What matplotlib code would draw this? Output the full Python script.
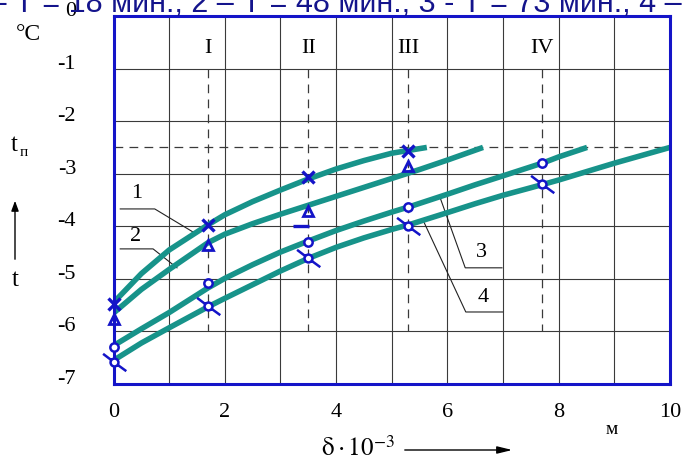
import matplotlib
matplotlib.use("Agg")
import matplotlib.pyplot as plt
from matplotlib.path import Path
from matplotlib.transforms import ScaledTranslation

plt.rcParams['font.family'] = ['Liberation Serif', 'DejaVu Serif']
plt.rcParams['mathtext.fontset'] = 'stix'
plt.rcParams['axes.unicode_minus'] = False

# кривые
x1 = [0, 0.5, 1, 1.7, 2, 2.5, 3, 3.5, 4, 4.5, 5, 5.63]
y1 = [-5.45, -4.90, -4.45, -3.97, -3.78, -3.53, -3.31, -3.10, -2.91, -2.75, -2.61, -2.50]
x2 = [0, 0.5, 1, 1.7, 2, 2.5, 3, 3.5, 4, 4.5, 5, 5.5, 6, 6.64]
y2 = [-5.65, -5.20, -4.82, -4.31, -4.15, -3.95, -3.77, -3.60, -3.43, -3.26, -3.09, -2.92, -2.74, -2.50]
x3 = [0, 0.5, 1, 1.7, 2, 2.5, 3, 3.5, 4, 4.5, 5, 5.34, 6, 6.5, 7, 7.73, 8, 8.51]
y3 = [-6.27, -5.95, -5.64, -5.17, -4.99, -4.73, -4.49, -4.28, -4.08, -3.90, -3.73, -3.62, -3.39, -3.21, -3.04, -2.79, -2.68, -2.50]
x4 = [0, 0.5, 1, 1.7, 2, 2.5, 3, 3.5, 4, 4.5, 5, 5.34, 6, 6.5, 7, 7.73, 8, 9, 10]
y4 = [-6.55, -6.22, -5.93, -5.53, -5.37, -5.11, -4.85, -4.61, -4.40, -4.22, -4.06, -3.96, -3.74, -3.57, -3.41, -3.20, -3.12, -2.80, -2.50]

# экспериментальные точки
sec_x = [0, 1.7, 3.5, 5.3, 7.7]
sec_names = ['I', 'II', 'III', 'IV']
m1 = [-5.48, -3.97, -3.07, -2.56]
m2 = [-5.76, -4.35, -3.70, -2.86]
m3 = [-6.29, -5.08, -4.29, -3.63, -2.79]
m4 = [-6.59, -5.51, -4.60, -4.00, -3.20]
dash_pt = (3.37, -4.0)

t_level = -2.5
title = "1 – Т = 18 мин.; 2 – Т = 48 мин.; 3 - Т = 73 мин.; 4 – Т = 98 мин."

teal = '#17938a'
blue = '#1414c8'

fig = plt.figure(figsize=(6.9, 4.62), dpi=100)
ax = fig.add_axes([0.1646, 0.1688, 0.971 - 0.1646, 0.9654 - 0.1688])
ax.set_xlim(0, 10)
ax.set_ylim(-7, 0)

# сетка
for gx in range(1, 10):
    ax.axvline(gx, color='#3a3a3a', lw=0.8, zorder=1)
for gy in range(-6, 0):
    ax.axhline(gy, color='#3a3a3a', lw=0.8, zorder=1)

# сечения I-IV и уровень t_п
for sx, nm in zip(sec_x[1:], sec_names):
    ax.plot([sx, sx], [-1, -6], color='#3a3a3a', lw=0.9, dashes=(7, 5), zorder=1)
    ax.text(sx, -0.62, nm, ha='center', va='center', fontsize=16)
ax.plot([0, 10], [t_level, t_level], color='#3a3a3a', lw=0.9, dashes=(7, 5), zorder=1)

for xs, ys in [(x1, y1), (x2, y2), (x3, y3), (x4, y4)]:
    ax.plot(xs, ys, color=teal, lw=4.0, solid_capstyle='butt', zorder=3)

# маркер: кружок с перечёркиванием
circ = Path.unit_circle()
leg = Path([(-2.9, 2.2), (-0.8, 0.6), (0.8, -0.6), (3.0, -2.2)],
           [Path.MOVETO, Path.LINETO, Path.MOVETO, Path.LINETO])
crossed = Path.make_compound_path(circ, leg)

mk = dict(ls='none', zorder=6, clip_on=False)
ax.plot(sec_x[:4], m1, marker='x', ms=8, mew=2.4, color=blue, **mk)
ax.plot(sec_x[:4], m2, marker='^', ms=7.5, mew=2, mfc='none', mec=blue, **mk)
ax.plot(sec_x, m3, marker='o', ms=6, mew=1.8, mfc='white', mec=blue, **mk)
ax.plot(sec_x, m4, marker=crossed, ms=17, mew=1.8, mfc='white', mec=blue, **mk)
ax.plot([dash_pt[0]], [dash_pt[1]], marker='_', ms=11, mew=2.4, color=blue, **mk)

# выноски
lk = dict(color='#222222', lw=0.8, zorder=2)
ax.plot([0.12, 0.74, 1.43], [-3.67, -3.67, -4.11], **lk)
ax.text(0.42, -3.38, '1', ha='center', va='center', fontsize=16)
ax.plot([0.12, 0.71, 1.14], [-4.43, -4.43, -4.79], **lk)
ax.text(0.39, -4.20, '2', ha='center', va='center', fontsize=16)
ax.plot([5.87, 6.32, 6.98], [-3.46, -4.79, -4.79], **lk)
ax.text(6.62, -4.50, '3', ha='center', va='center', fontsize=16)
ax.plot([5.56, 6.33, 6.99], [-3.88, -5.63, -5.63], **lk)
ax.text(6.64, -5.35, '4', ha='center', va='center', fontsize=16)

for s in ax.spines.values():
    s.set_color(blue)
    s.set_linewidth(2.2)
    s.set_zorder(5)

ax.set_xticks(range(0, 11, 2))
ax.set_yticks(range(-7, 1))
ax.tick_params(length=0, labelsize=16, pad=14)
ax.tick_params(axis='y', pad=27)
for lab in ax.get_yticklabels():
    lab.set_transform(lab.get_transform() + ScaledTranslation(0, 5 / 72, fig.dpi_scale_trans))

# подписи осей
fig.text(28 / 690, 1 - 35 / 462, '°C', ha='center', va='center', fontsize=17)
fig.text(14 / 690, 1 - 145 / 462, 't', ha='center', va='center', fontsize=18)
fig.text(24 / 690, 1 - 152 / 462, 'п', ha='center', va='center', fontsize=11)
fig.text(15 / 690, 1 - 280 / 462, 't', ha='center', va='center', fontsize=18)
fig.add_artist(matplotlib.patches.FancyArrowPatch((15 / 690, 1 - 262 / 462), (15 / 690, 1 - 198 / 462),
               transform=fig.transFigure, arrowstyle='-|>,head_length=6,head_width=2.2', color='black', lw=1))
fig.text(358 / 690, 1 - 448 / 462, r'$\mathrm{\delta}\cdot10^{-3}$', ha='center', va='center', fontsize=18)
fig.add_artist(matplotlib.patches.FancyArrowPatch((402 / 690, 1 - 450 / 462), (515 / 690, 1 - 450 / 462),
               transform=fig.transFigure, arrowstyle='-|>,head_length=9,head_width=2.2', color='black', lw=1))
fig.text(612 / 690, 1 - 430 / 462, 'м', ha='center', va='center', fontsize=14)

fig.text(-36 / 690, 1 - 12 / 462, title, ha='left', va='baseline', fontsize=22,
         family='Liberation Sans', color='#14148c')

fig.savefig('out.png', dpi=100)
